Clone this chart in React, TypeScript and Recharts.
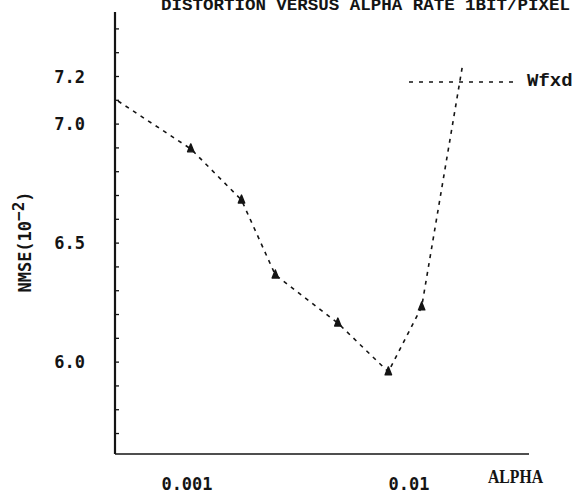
import React from 'react';
import { LineChart, Line, XAxis, YAxis, Legend } from 'recharts';

// ---- data ----
const alpha = [0.000489, 0.00104, 0.00176, 0.0025, 0.00478, 0.00807, 0.0114, 0.01734];
const nmse = [7.097, 6.896, 6.681, 6.366, 6.164, 5.959, 6.232, 7.236];
const hasMarker = [false, true, true, true, true, true, true, false];

const seriesName = 'Wfxd';
const chartTitle = 'DISTORTION VERSUS ALPHA RATE 1BIT/PIXEL';
const xTitle = 'ALPHA';

const xTicks = [0.001, 0.01];
const xTickLabels = ['0.001', '0.01'];
const xDomain = [0.000474, 0.0347];

const yMajorTicks = [6.0, 6.5, 7.0, 7.2];
const yMajorLabels = ['6.0', '6.5', '7.0', '7.2'];
const yMinorTicks = [5.7, 5.8, 5.9, 6.1, 6.2, 6.3, 6.4, 6.6, 6.7, 6.8, 6.9, 7.1, 7.3, 7.4];
const yDomain = [5.614, 7.471];

const data = alpha.map((a, i) => ({ alpha: a, nmse: nmse[i], marked: hasMarker[i] }));
const yTicks = [...yMinorTicks, ...yMajorTicks].sort((a, b) => a - b);

const INK = '#141414';
const DIGIT_FONT = '"DejaVu Sans Mono", monospace';
const TYPE_FONT = '"Liberation Mono", monospace';

const YTick = (props: any) => {
  const { x, y, payload } = props;
  const i = yMajorTicks.indexOf(payload.value);
  return (
    <g>
      <line x1={x} x2={x + 4} y1={y} y2={y} stroke={INK} strokeWidth={1.3} />
      {i >= 0 && (
        <text x={x - 30} y={y} dy="0.36em" textAnchor="end" fontFamily={DIGIT_FONT}
          fontWeight="bold" fontSize={17} fill={INK}>
          {yMajorLabels[i]}
        </text>
      )}
    </g>
  );
};

const XTick = (props: any) => {
  const { x, y, payload } = props;
  const i = xTicks.indexOf(payload.value);
  return (
    <text x={x} y={y} dy={36} textAnchor="middle" fontFamily={DIGIT_FONT}
      fontWeight="bold" fontSize={17} fill={INK}>
      {i >= 0 ? xTickLabels[i] : ''}
    </text>
  );
};

const Marker = (props: any) => {
  const { cx, cy, index, payload } = props;
  if (!payload || !payload.marked || cx == null || cy == null) return <g key={`m${index}`} />;
  return (
    <path key={`m${index}`}
      d={`M${cx},${cy - 5} L${cx + 3.2},${cy + 3} L${cx - 3.2},${cy + 3} Z`}
      fill={INK} stroke={INK} strokeWidth={1.4} strokeLinejoin="round" />
  );
};

const XLabel = (props: any) => {
  const vb = props.viewBox || { x: 115, y: 454, width: 414, height: 41 };
  return (
    <text x={vb.x + vb.width - 13.5} y={vb.y + 29} textAnchor="middle"
      fontFamily='"Liberation Serif", serif' fontWeight="bold" fontSize={18}
      textLength={55} lengthAdjust="spacingAndGlyphs" fill={INK}>
      {xTitle}
    </text>
  );
};

const YLabel = (props: any) => {
  const vb = props.viewBox || { x: 0, y: 12, width: 115, height: 442 };
  const cx = vb.x + 25;
  const cy = vb.y + 230;
  return (
    <text x={cx} y={cy} transform={`rotate(-90, ${cx}, ${cy})`} textAnchor="middle"
      dominantBaseline="central" fontFamily={DIGIT_FONT} fontWeight="bold"
      fontSize={17} fill={INK}>
      NMSE(10
      <tspan dy={-7} fontSize={16}>−2</tspan>
      <tspan dy={7}>)</tspan>
    </text>
  );
};

const LegendContent = (props: any) => {
  const name = props?.payload?.[0]?.value ?? seriesName;
  return (
    <svg width={175} height={22} style={{ display: 'block' }}>
      <line x1={4} x2={108} y1={10} y2={10} stroke={INK} strokeWidth={1.4} strokeDasharray="4 6" />
      <text x={122} y={14} fontFamily={TYPE_FONT} fontWeight="bold" fontSize={19} fill={INK}>
        {name}
      </text>
    </svg>
  );
};

export default function App() {
  return (
    <div style={{ position: 'absolute', left: 0, top: 0, width: 580, height: 495, background: '#fff' }}>
      <svg width={580} height={20} style={{ position: 'absolute', left: 0, top: 0 }}>
        <text x={161} y={10} fontFamily={TYPE_FONT} fontWeight="bold" fontSize={17}
          textLength={409} lengthAdjust="spacingAndGlyphs" fill={INK}>
          {chartTitle}
        </text>
      </svg>
      <LineChart width={580} height={495} data={data}
        margin={{ top: 12, right: 51, bottom: 0, left: 0 }}
        style={{ position: 'absolute', left: 0, top: 0 }}>
        <XAxis dataKey="alpha" type="number" scale="log" domain={xDomain} allowDataOverflow
          ticks={xTicks} interval={0} height={41} tickLine={false} tickSize={0} tickMargin={0}
          axisLine={{ stroke: INK, strokeWidth: 1.6 }} tick={<XTick />} label={<XLabel />} />
        <YAxis type="number" domain={yDomain} allowDataOverflow ticks={yTicks} interval={0}
          width={115} tickLine={false} tickSize={0} tickMargin={0}
          axisLine={{ stroke: INK, strokeWidth: 2.2 }} tick={<YTick />} label={<YLabel />} />
        <Legend layout="vertical" align="center" verticalAlign="middle"
          wrapperStyle={{ position: 'absolute', left: 405, top: 72, width: 175, height: 22 }}
          content={<LegendContent />} />
        <Line type="linear" dataKey="nmse" name={seriesName} stroke={INK} strokeWidth={1.6}
          strokeDasharray="4 5" dot={Marker} activeDot={false} isAnimationActive={false} />
      </LineChart>
    </div>
  );
}
